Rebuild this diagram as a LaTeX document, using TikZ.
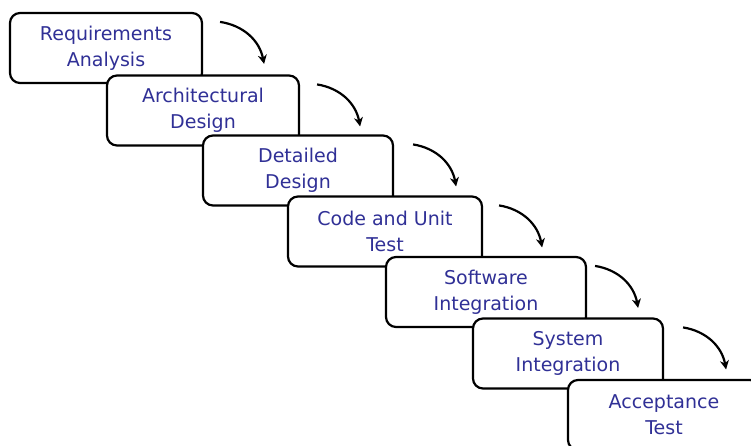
\documentclass[tikz,border=0pt]{standalone}
\usepackage{fontspec}
\setmainfont{DejaVu Sans}
\usetikzlibrary{arrows.meta}
\definecolor{stageblue}{RGB}{48,48,150}
\begin{document}
\begin{tikzpicture}[x=1pt,y=-1pt]
        \tikzstyle{stage}=[rectangle,rounded corners=10pt,line width=2.2pt,draw=black,fill=white,minimum width=192pt,minimum height=70pt,inner sep=0pt,align=center,text=stageblue,font={\fontsize{19}{26}\selectfont}]
        \tikzstyle{flow}=[draw,line width=2.2pt,-{Stealth[length=9pt,width=9pt]}]
        \useasboundingbox (0,0) rectangle (751,445);
        \clip (0,0) rectangle (751,445);
       \begin{scope}
         \node [stage] (s1) at (106,48) {Requirements\\Analysis};
         \node [stage] (s2) at (203,110.5) {Architectural\\Design};
         \node [stage,minimum width=190pt] (s3) at (298,170.5) {Detailed\\Design};
         \node [stage,minimum width=194pt] (s4) at (385,231.5) {Code and Unit\\Test};
         \node [stage,minimum width=200pt] (s5) at (486,292) {Software\\Integration};
         \node [stage,minimum width=190pt] (s6) at (568,353.5) {System\\Integration};
         \node [stage] (s7) at (664,415) {Acceptance\\Test};

         \path[flow] ([shift={(17,10)}]s1.north east) to [bend left=35] ++(44,42);
         \path[flow] ([shift={(17,10)}]s2.north east) to [bend left=35] ++(43,42);
         \path[flow] ([shift={(19,10)}]s3.north east) to [bend left=35] ++(43,42);
         \path[flow] ([shift={(16,10)}]s4.north east) to [bend left=35] ++(43,42);
         \path[flow] ([shift={(8,10)}]s5.north east) to [bend left=35] ++(43,42);
         \path[flow] ([shift={(19,10)}]s6.north east) to [bend left=35] ++(43,42);
       \end{scope}
\end{tikzpicture}
\end{document}
